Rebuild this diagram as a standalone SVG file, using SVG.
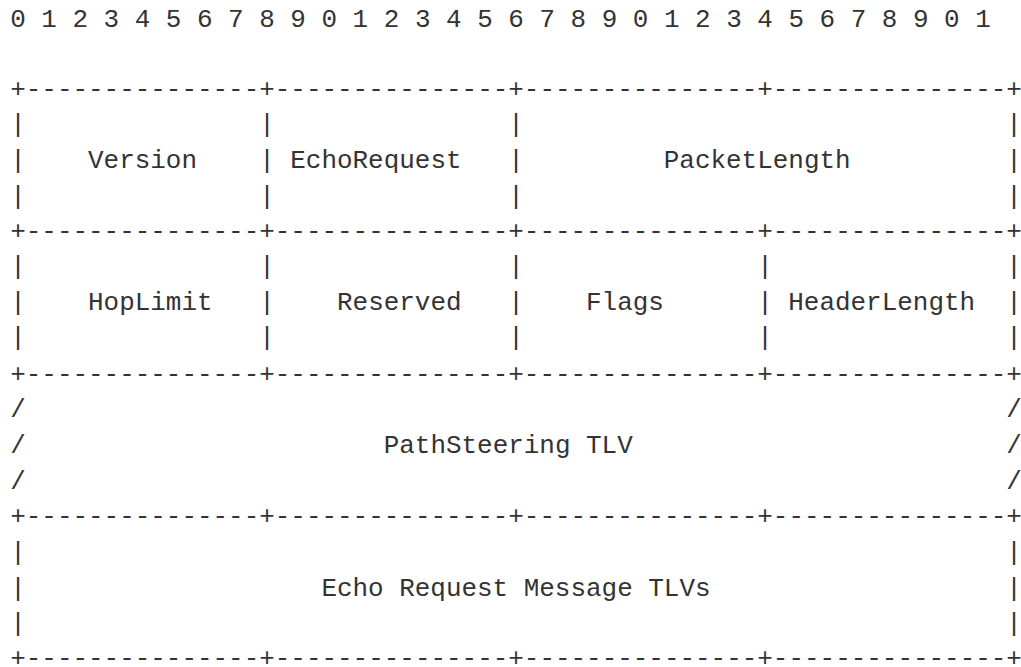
<svg xmlns="http://www.w3.org/2000/svg" width="1021" height="667" viewBox="0 0 1021 667">
  <style>
    text { font-family: "Liberation Mono", "DejaVu Sans Mono", monospace; font-size: 25.94px; fill: #333333; }
  </style>
  <rect width="1021" height="667" fill="#ffffff"/>

  <!-- bit ruler -->
  <text id="ruler" x="10.2" y="26.5" xml:space="preserve">0 1 2 3 4 5 6 7 8 9 0 1 2 3 4 5 6 7 8 9 0 1 2 3 4 5 6 7 8 9 0 1</text>

  <!-- cell borders and separators (columns 0, 16, 32, 48, 64) -->
  <g id="connectors">
    <text x="10.2" y="96.6">+---------------+---------------+---------------+---------------+</text>
    <g id="row1-bars">
      <text x="10.2" y="132.3">|</text><text x="259.2" y="132.3">|</text><text x="508.2" y="132.3">|</text><text x="1006.2" y="132.3">|</text>
      <text x="10.2" y="168.0">|</text><text x="259.2" y="168.0">|</text><text x="508.2" y="168.0">|</text><text x="1006.2" y="168.0">|</text>
      <text x="10.2" y="203.6">|</text><text x="259.2" y="203.6">|</text><text x="508.2" y="203.6">|</text><text x="1006.2" y="203.6">|</text>
    </g>
    <text x="10.2" y="239.3">+---------------+---------------+---------------+---------------+</text>
    <g id="row2-bars">
      <text x="10.2" y="274.2">|</text><text x="259.2" y="274.2">|</text><text x="508.2" y="274.2">|</text><text x="757.2" y="274.2">|</text><text x="1006.2" y="274.2">|</text>
      <text x="10.2" y="309.5">|</text><text x="259.2" y="309.5">|</text><text x="508.2" y="309.5">|</text><text x="757.2" y="309.5">|</text><text x="1006.2" y="309.5">|</text>
      <text x="10.2" y="345.4">|</text><text x="259.2" y="345.4">|</text><text x="508.2" y="345.4">|</text><text x="757.2" y="345.4">|</text><text x="1006.2" y="345.4">|</text>
    </g>
    <text x="10.2" y="381.6">+---------------+---------------+---------------+---------------+</text>
    <g id="row3-edges">
      <text x="10.2" y="417.3">/</text><text x="1006.2" y="417.3">/</text>
      <text x="10.2" y="453.0">/</text><text x="1006.2" y="453.0">/</text>
      <text x="10.2" y="488.7">/</text><text x="1006.2" y="488.7">/</text>
    </g>
    <text x="10.2" y="524.0">+---------------+---------------+---------------+---------------+</text>
    <g id="row4-bars">
      <text x="10.2" y="559.8">|</text><text x="1006.2" y="559.8">|</text>
      <text x="10.2" y="595.6">|</text><text x="1006.2" y="595.6">|</text>
      <text x="10.2" y="631.4">|</text><text x="1006.2" y="631.4">|</text>
    </g>
    <text x="10.2" y="666.0">+---------------+---------------+---------------+---------------+</text>
  </g>

  <!-- header fields -->
  <g id="version"><text x="88.0" y="168.0">Version</text></g>
  <g id="echo-request"><text x="290.3" y="168.0">EchoRequest</text></g>
  <g id="packet-length"><text x="663.8" y="168.0">PacketLength</text></g>
  <g id="hop-limit"><text x="88.0" y="309.5">HopLimit</text></g>
  <g id="reserved"><text x="337.0" y="309.5">Reserved</text></g>
  <g id="flags"><text x="586.0" y="309.5">Flags</text></g>
  <g id="header-length"><text x="788.3" y="309.5">HeaderLength</text></g>
  <g id="path-steering-tlv"><text x="383.7" y="453.0">PathSteering TLV</text></g>
  <g id="echo-request-tlvs"><text x="321.4" y="595.6">Echo Request Message TLVs</text></g>
</svg>
